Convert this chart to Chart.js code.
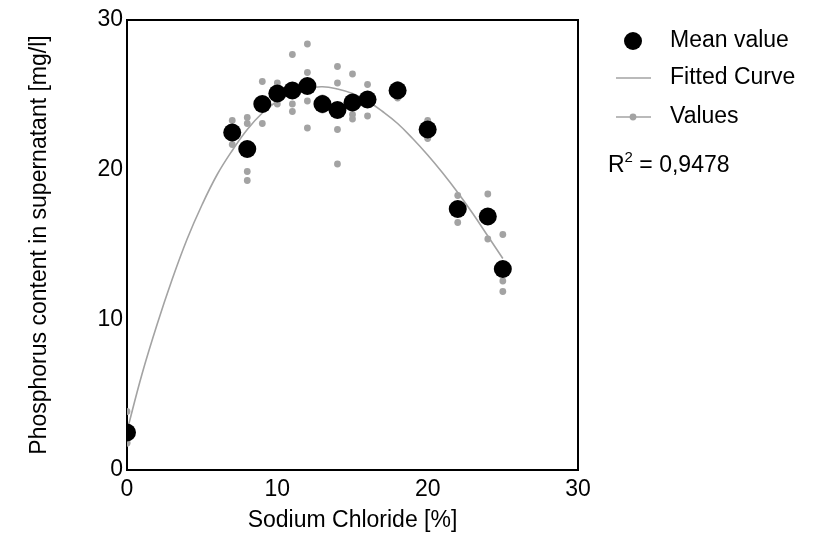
<!DOCTYPE html>
<html>
<head>
<meta charset="utf-8">
<script src="https://cdn.jsdelivr.net/npm/chart.js@4.4.0/dist/chart.umd.min.js"></script>
<style>
	html, body { margin: 0; padding: 0; background: #fff; }
	#wrap { width: 814px; height: 536px; position: relative; }
	canvas { display: block; }
</style>
</head>
<body>
<div id="wrap"><canvas id="chart" width="814" height="536"></canvas></div>
<script>
// NaCl concentrations [%]
const naclPercent = [0, 7, 8, 9, 10, 11, 12, 13, 14, 15, 16, 18, 20, 22, 24, 25];
// Mean phosphorus content [mg/l]
const meanValues = [2.5, 22.5, 21.4, 24.4, 25.1, 25.3, 25.6, 24.4, 24.0, 24.5, 24.7, 25.3, 22.7, 17.4, 16.9, 13.4];
// Single measurements per concentration
const replicateValues = [
	[3.9, 1.8, 1.8],
	[23.3, 22.5, 21.7],
	[23.5, 23.1, 19.9, 19.3],
	[25.9, 24.3, 23.1],
	[25.8, 25.2, 24.4],
	[27.7, 24.4, 23.9],
	[28.4, 26.5, 24.6, 22.8],
	[24.8, 24.4, 24.0],
	[26.9, 25.8, 22.7, 20.4],
	[26.4, 23.7, 23.4],
	[25.7, 24.7, 23.6],
	[25.7, 25.3, 24.8],
	[23.3, 22.7, 22.1],
	[18.3, 17.4, 16.5],
	[18.4, 16.9, 15.4],
	[15.7, 12.6, 11.9],
];
// Fitted curve
const curveX = [0, 1, 2, 3, 4, 5, 6, 7, 8, 9, 10, 11, 12, 13, 14, 15, 16, 17, 18, 19, 20, 21, 22, 23, 24, 25];
const curveY = [2.6, 6.4, 9.7, 12.7, 15.4, 17.7, 19.7, 21.3, 22.7, 23.8, 24.6, 25.15, 25.45, 25.55, 25.4, 25.1, 24.6, 23.9, 23.1, 22.1, 21.0, 19.8, 18.5, 17.1, 15.6, 14.1];
const xTicks = [0, 10, 20, 30];
const yTicks = [0, 10, 20, 30];
const legendLabels = ['Mean value', 'Fitted Curve', 'Values'];
const rSquared = '0,9478';

const FONT = '"Liberation Sans", Arial, sans-serif';
const FSIZE = 23;
const GREY = '#a3a3a3';

const meanPoints = naclPercent.map((x, i) => ({ x: x, y: meanValues[i] }));
const valuePoints = [];
naclPercent.forEach((x, i) => {
	replicateValues[i].forEach((v) => valuePoints.push({ x: x, y: v }));
});
const curvePoints = curveX.map((x, i) => ({ x: x, y: curveY[i] }));

// frame on top/right + legend on the side
const extrasPlugin = {
	id: 'extras',
	afterDraw(chart) {
		const ctx = chart.ctx;
		const a = chart.chartArea;
		ctx.save();
		ctx.strokeStyle = '#000';
		ctx.lineWidth = 2;
		ctx.beginPath();
		ctx.moveTo(a.left, a.top);
		ctx.lineTo(a.right, a.top);
		ctx.lineTo(a.right, a.bottom);
		ctx.stroke();

		ctx.font = FSIZE + 'px ' + FONT;
		ctx.fillStyle = '#000';
		ctx.textBaseline = 'middle';
		ctx.textAlign = 'left';
		const rows = [41, 78, 117];
		// mean value
		ctx.beginPath();
		ctx.arc(633, rows[0], 9, 0, Math.PI * 2);
		ctx.fill();
		ctx.fillText(legendLabels[0], 670, rows[0]);
		// fitted curve
		ctx.strokeStyle = GREY;
		ctx.lineWidth = 1.6;
		ctx.beginPath();
		ctx.moveTo(616, rows[1]);
		ctx.lineTo(651, rows[1]);
		ctx.stroke();
		ctx.fillText(legendLabels[1], 670, rows[1]);
		// values
		ctx.beginPath();
		ctx.moveTo(616, rows[2]);
		ctx.lineTo(651, rows[2]);
		ctx.stroke();
		ctx.fillStyle = GREY;
		ctx.beginPath();
		ctx.arc(633, rows[2], 3.4, 0, Math.PI * 2);
		ctx.fill();
		ctx.fillStyle = '#000';
		ctx.fillText(legendLabels[2], 670, rows[2]);

		// R squared
		ctx.textBaseline = 'alphabetic';
		let x = 608;
		const y = 172;
		ctx.fillText('R', x, y);
		x += ctx.measureText('R').width;
		ctx.font = '15px ' + FONT;
		ctx.fillText('2', x, y - 10);
		x += ctx.measureText('2').width;
		ctx.font = FSIZE + 'px ' + FONT;
		ctx.fillText(' = ' + rSquared, x, y);
		ctx.restore();
	},
};

const ctx = document.getElementById('chart').getContext('2d');
const chart = new Chart(ctx, {
	type: 'scatter',
	data: {
		datasets: [
			{
				label: legendLabels[0],
				data: meanPoints,
				pointRadius: 9,
				pointBackgroundColor: '#000',
				pointBorderWidth: 0,
				order: 0,
			},
			{
				label: legendLabels[1],
				type: 'line',
				data: curvePoints,
				borderColor: GREY,
				borderWidth: 1.6,
				pointRadius: 0,
				tension: 0.4,
				fill: false,
				order: 1,
			},
			{
				label: legendLabels[2],
				data: valuePoints,
				pointRadius: 3.4,
				pointBackgroundColor: GREY,
				pointBorderWidth: 0,
				order: 2,
			},
		],
	},
	options: {
		responsive: false,
		maintainAspectRatio: false,
		animation: false,
		devicePixelRatio: 1,
		layout: {
			padding: { left: 28.5, top: 20, right: 236, bottom: 3.5 },
		},
		plugins: {
			legend: { display: false },
			tooltip: { enabled: false },
		},
		scales: {
			x: {
				type: 'linear',
				min: 0,
				max: 30,
				afterFit: (scale) => { scale.height = 62.5; },
				afterBuildTicks: (scale) => { scale.ticks = xTicks.map((v) => ({ value: v })); },
				grid: { display: true, drawOnChartArea: false, drawTicks: false },
				border: { display: true, color: '#000', width: 2 },
				ticks: {
					color: '#000',
					padding: 6,
					font: { family: FONT, size: FSIZE },
				},
				title: {
					display: true,
					text: 'Sodium Chloride [%]',
					color: '#000',
					padding: 0,
					font: { family: FONT, size: FSIZE, lineHeight: 1 },
				},
			},
			y: {
				type: 'linear',
				min: 0,
				max: 30,
				afterFit: (scale) => { scale.width = 98.5; },
				afterBuildTicks: (scale) => { scale.ticks = yTicks.map((v) => ({ value: v })); },
				grid: { display: true, drawOnChartArea: false, drawTicks: false },
				border: { display: true, color: '#000', width: 2 },
				ticks: {
					color: '#000',
					padding: 4,
					font: { family: FONT, size: FSIZE },
				},
				title: {
					display: true,
					text: 'Phosphorus content in supernatant [mg/l]',
					color: '#000',
					padding: 0,
					font: { family: FONT, size: FSIZE, lineHeight: 1 },
				},
			},
		},
	},
	plugins: [extrasPlugin],
});
</script>
</body>
</html>
